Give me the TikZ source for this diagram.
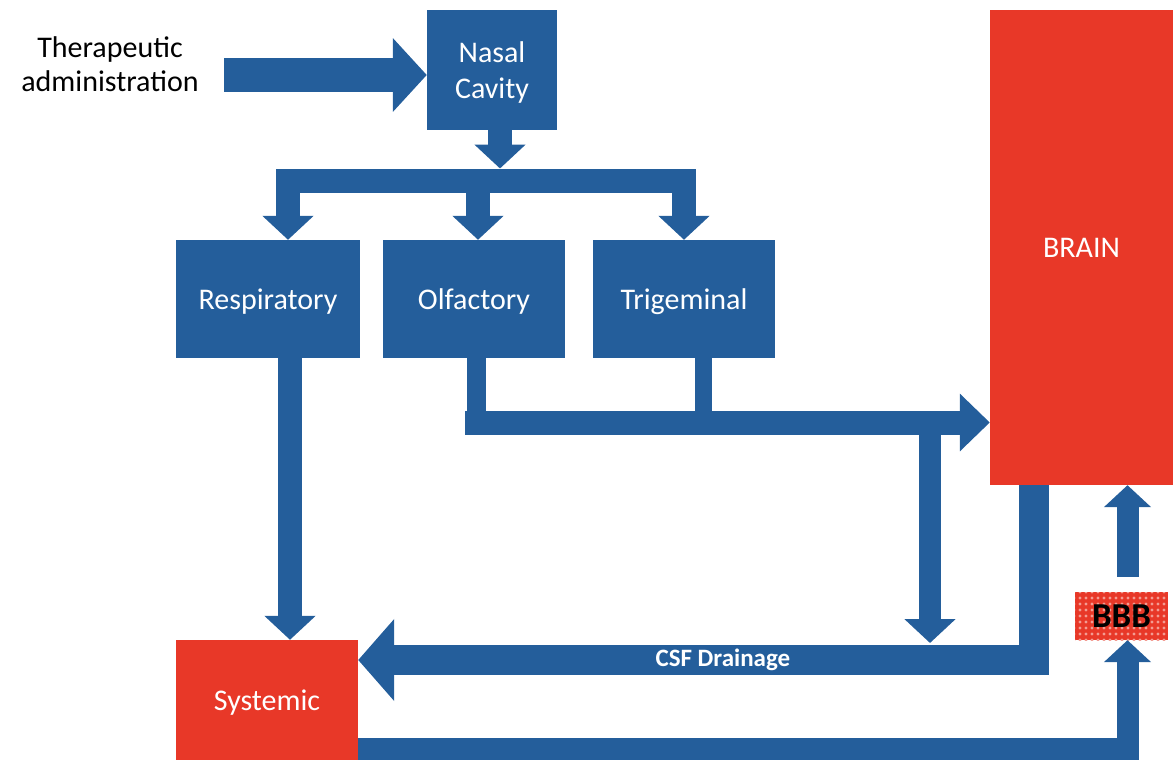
\documentclass[tikz,border=0pt]{standalone}
\usepackage{fontspec}
\setmainfont{Carlito}
\usepackage{tikz}
\usetikzlibrary{arrows.meta,positioning,calc,patterns.meta}
\definecolor{nasalblue}{RGB}{36,94,155}
\definecolor{brainred}{RGB}{232,56,40}
\begin{document}
\begin{tikzpicture}[
    x=1pt, y=-1pt,
    bluebox/.style={fill=nasalblue, text=white, align=center, inner sep=0pt, text depth=0pt, font=\fontsize{30}{36}\selectfont},
    redbox/.style={fill=brainred, text=white, align=center, inner sep=0pt, text depth=0pt, font=\fontsize{30}{36}\selectfont},
    flowarrow/.style={draw=nasalblue, line width=24pt, line join=miter, -{Triangle[width=50pt, length=24pt]}},
    widearrow/.style={draw=nasalblue, line width=34pt, line join=miter, -{Triangle[width=72pt, length=34pt]}},
    riser/.style={draw=nasalblue, line width=19pt}
]
\useasboundingbox (0,0) rectangle (1176,760);
% boxes
\node[align=center, font=\fontsize{30}{34}\selectfont] (therapy) at (110,64) {Therapeutic\\administration};
\node[bluebox, minimum width=130pt, minimum height=120pt] (nasal) at (492,70) {Nasal\\Cavity};
\node[bluebox, minimum width=184pt, minimum height=118pt] (resp) at (268,299) {Respiratory};
\node[bluebox, minimum width=182pt, minimum height=118pt] (olf) at (474,299) {Olfactory};
\node[bluebox, minimum width=182pt, minimum height=118pt] (trig) at (684,299) {Trigeminal};
\node[redbox, minimum width=183pt, minimum height=475pt] (brain) at (1081.5,247.5) {BRAIN};
\node[redbox, minimum width=182pt, minimum height=120pt] (sys) at (267,700) {Systemic};
\node[minimum width=93pt, minimum height=48pt, inner sep=0pt, preaction={fill=brainred},
      pattern={Dots[distance=6pt, radius=1.7pt]}, pattern color=white!50!brainred,
      font=\fontsize{35}{35}\bfseries] (bbb) at (1121.5,616) {BBB};
% helper points
\coordinate (hub) at (nasal.south |- 0,180.5);
\coordinate (merge) at (olf.south |- 0,422.5);
\coordinate (tap) at (930,422.5);
\coordinate (bbbtop) at ([xshift=6pt]bbb.north);
\coordinate (bbbfoot) at ([xshift=6pt]bbb.south);
% connectors
\draw[widearrow] ([xshift=22pt,yshift=-5pt]therapy.east |- nasal.west) -- ([yshift=-5pt]nasal.west);
\draw[flowarrow] ([xshift=8pt]nasal.south) -- ([xshift=8pt,yshift=12pt]hub);
\draw[flowarrow] (hub) -| ([xshift=20pt]resp.north);
\draw[flowarrow] (hub) -| ([xshift=4pt]olf.north);
\draw[flowarrow] (hub) -| (trig.north);
\draw[flowarrow] ([xshift=22pt]resp.south) -- ([xshift=22pt]resp.south |- sys.north);
\draw[riser] ([xshift=2pt]olf.south) -- ([xshift=2pt,yshift=-12pt]merge);
\draw[riser, line width=17pt] ([xshift=19pt]trig.south) -- ([xshift=19pt]trig.south |- merge);
\draw[flowarrow, -{Triangle[width=56pt, length=30pt]}] ([xshift=-9pt]merge) -- (brain.west |- merge);
\draw[flowarrow, line width=22pt] (tap) -- (tap |- 0,643);
\draw[draw=nasalblue, line width=30pt, line join=miter, -{Triangle[width=80pt, length=36pt]}]
    ([xshift=-48pt]brain.south) |- ([yshift=40pt]sys.east)
    node[pos=0.73, text=white, font=\fontsize{25}{25}\bfseries] {CSF Drainage};
\draw[flowarrow, line width=22pt, -{Triangle[width=46pt, length=22pt]}] ([yshift=-49pt]sys.east) -| (bbbfoot);
\draw[flowarrow, line width=22pt, -{Triangle[width=46pt, length=22pt]}] ([yshift=15pt]bbbtop) -- (bbbtop |- brain.south);
\end{tikzpicture}
\end{document}
